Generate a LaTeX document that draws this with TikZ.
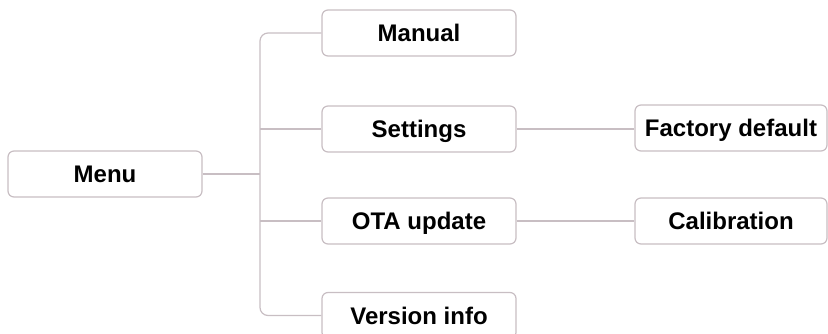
\documentclass[tikz,border=0pt]{standalone}
\usepackage{fontspec}
\setmainfont{Liberation Sans}
\definecolor{edge}{RGB}{200,190,195}
\begin{document}
\begin{tikzpicture}[x=1pt,y=-1pt,
  box/.style={draw=edge,line width=1.2pt,rounded corners=6pt,fill=white,
    minimum width=194pt,minimum height=46pt,inner sep=0pt,
    text height=17.2pt,text depth=0pt,
    font=\bfseries\fontsize{24}{26}\selectfont,text=black},
  link/.style={draw=edge,line width=1.2pt}]
\useasboundingbox (0,0) rectangle (828,334);
\node[box] (menu) at (105,174) {Menu};
\node[box] (manual) at (419,33) {Manual};
\node[box] (settings) at (419,129) {Settings};
\node[box] (ota) at (419,221) {OTA update};
\node[box] (version) at (419,315.5) {Version info};
\node[box,minimum width=192pt] (factory) at (731,128) {Factory default};
\node[box,minimum width=192pt] (calib) at (731,221) {Calibration};
\coordinate (ttop) at (260,33);
\coordinate (tbot) at (260,315.5);
\draw[link,rounded corners=8pt] (manual.west) -- (ttop) -- (tbot) -- (version.west);
\draw[link] (menu.east) -- (menu.east -| ttop);
\draw[link] (settings.west) -- (settings.west -| ttop);
\draw[link] (ota.west) -- (ota.west -| ttop);
\draw[link] (settings.east) -- (settings.east -| factory.west);
\draw[link] (ota.east) -- (calib.west);
\end{tikzpicture}
\end{document}
